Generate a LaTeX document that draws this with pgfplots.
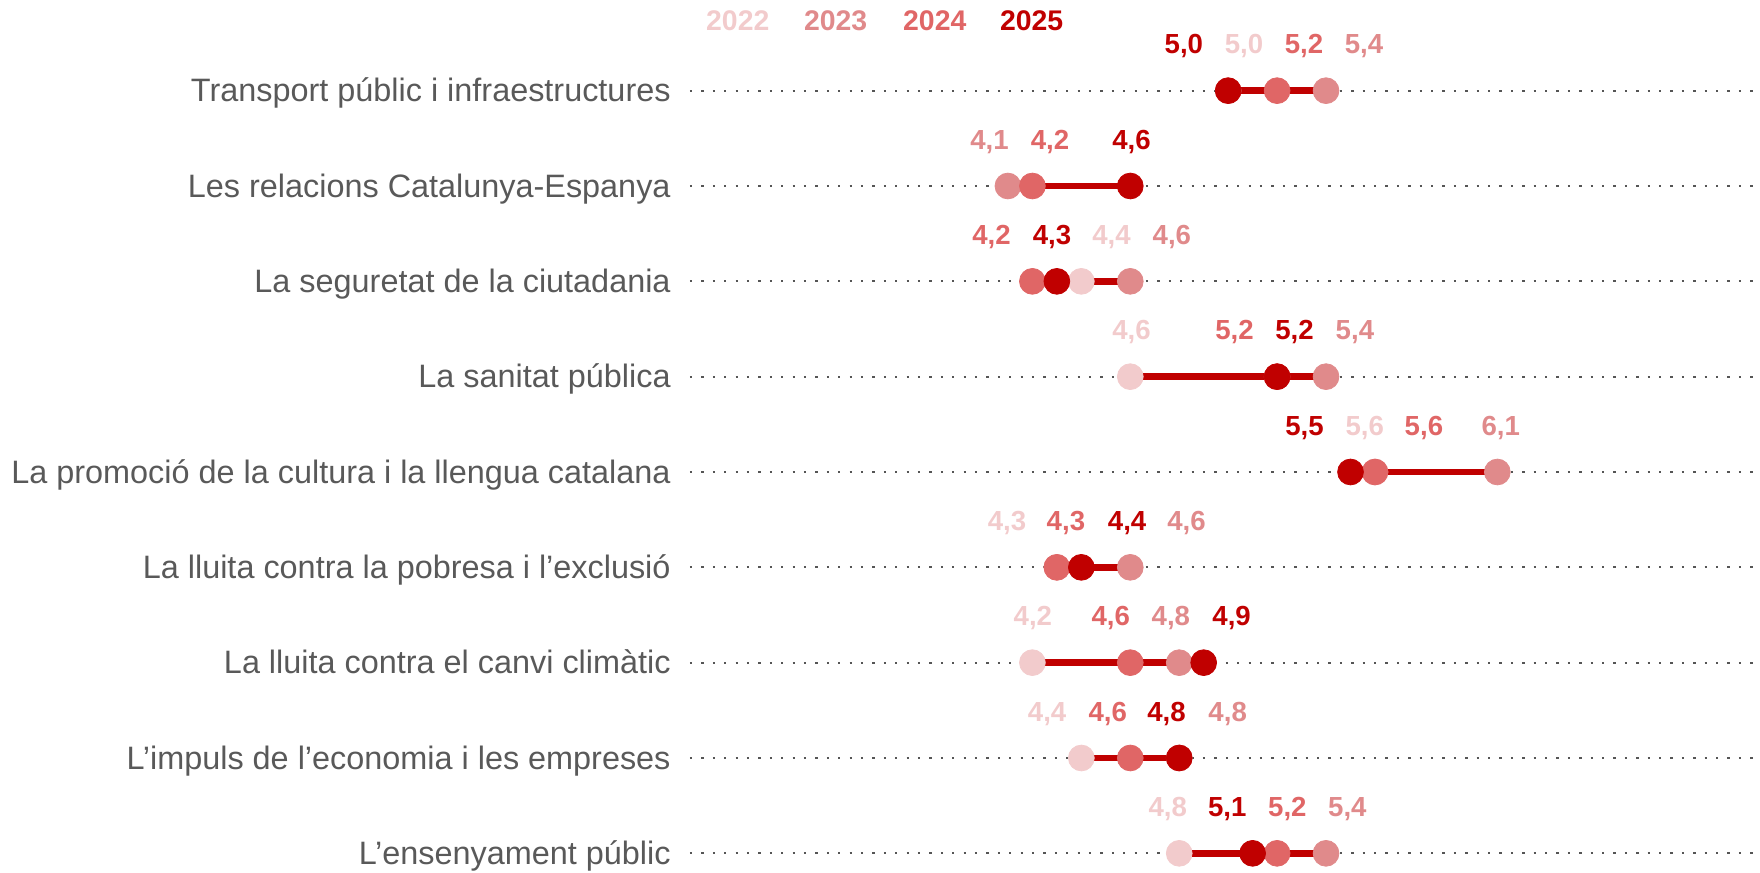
\documentclass[border=0pt]{standalone}
\usepackage{fontspec}
\setmainfont{Liberation Sans}
\usepackage{pgfplots}
\pgfplotsset{compat=1.18}
\definecolor{cA}{HTML}{F2CBCC}
\definecolor{cB}{HTML}{E08A8B}
\definecolor{cC}{HTML}{E06666}
\definecolor{cD}{HTML}{C00000}
\definecolor{txt}{HTML}{595959}
\definecolor{dotg}{HTML}{555555}
\begin{document}
\begin{tikzpicture}
\begin{axis}[
  scale only axis, width=535pt, height=436pt,
  xmin=2.8007, xmax=7.1734, ymin=-0.951, ymax=8.196, y dir=reverse,
  axis line style={draw=none},
  xtick=\empty, ytick={0,1,2,3,4,5,6,7,8},
  yticklabels={Transport públic i infraestructures,Les relacions Catalunya-Espanya,La seguretat de la ciutadania,La sanitat pública,La promoció de la cultura i la llengua catalana,La lluita contra la pobresa i l’exclusió,La lluita contra el canvi climàtic,L’impuls de l’economia i les empreses,L’ensenyament públic},
  major tick length=0pt,
  yticklabel style={font=\fontsize{16.2}{19}\selectfont, text=txt, anchor=base east, xshift=-9.5pt, yshift=-5.6pt, inner sep=0pt},
  ymajorgrids, grid style={dotg, line width=1.15pt, dash pattern=on 1.15pt off 4.55pt},
  clip=false,
  valnode/.style={draw=none, mark=none, nodes near coords, point meta=explicit symbolic,
    every node near coord/.append style={anchor=base, yshift=18.35pt, inner sep=0pt, font=\bfseries\fontsize{13.8}{16}\selectfont}},
]
% connecting lines
\addplot[cD, line width=3.3pt, unbounded coords=jump, mark=none] coordinates {
(5.0,0) (5.4,0) (nan,nan)
(4.1,1) (4.6,1) (nan,nan)
(4.2,2) (4.6,2) (nan,nan)
(4.6,3) (5.4,3) (nan,nan)
(5.5,4) (6.1,4) (nan,nan)
(4.3,5) (4.6,5) (nan,nan)
(4.2,6) (4.9,6) (nan,nan)
(4.4,7) (4.8,7) (nan,nan)
(4.8,8) (5.4,8)};
% 2022
\addplot[cA, only marks, mark=*, mark size=6.45pt] coordinates {
(5.0,0) (4.4,2) (4.6,3) (5.6,4) (4.3,5) (4.2,6) (4.4,7) (4.8,8)};
% 2023
\addplot[cB, only marks, mark=*, mark size=6.45pt] coordinates {
(5.4,0) (4.1,1) (4.6,2) (5.4,3) (6.1,4) (4.6,5) (4.8,6) (4.8,7) (5.4,8)};
% 2024
\addplot[cC, only marks, mark=*, mark size=6.45pt] coordinates {
(5.2,0) (4.2,1) (4.2,2) (5.2,3) (5.6,4) (4.3,5) (4.6,6) (4.6,7) (5.2,8)};
% 2025
\addplot[cD, only marks, mark=*, mark size=6.45pt] coordinates {
(5.0,0) (4.6,1) (4.3,2) (5.2,3) (5.5,4) (4.4,5) (4.9,6) (4.8,7) (5.1,8)};
% value labels
\addplot[cA, valnode] table[meta=lab] {
x y lab
5.065 0 5,0
4.523 2 4,4
4.605 3 4,6
5.558 4 5,6
4.096 5 4,3
4.202 6 4,2
4.260 7 4,4
4.753 8 4,8
};
\addplot[cB, valnode] table[meta=lab] {
x y lab
5.555 0 5,4
4.025 1 4,1
4.770 2 4,6
5.518 3 5,4
6.114 4 6,1
4.830 5 4,6
4.766 6 4,8
4.998 7 4,8
5.487 8 5,4
};
\addplot[cC, valnode] table[meta=lab] {
x y lab
5.310 0 5,2
4.272 1 4,2
4.033 2 4,2
5.026 3 5,2
5.800 4 5,6
4.337 5 4,3
4.520 6 4,6
4.508 7 4,6
5.242 8 5,2
};
\addplot[cD, valnode] table[meta=lab] {
x y lab
4.819 0 5,0
4.605 1 4,6
4.280 2 4,3
5.271 3 5,2
5.312 4 5,5
4.587 5 4,4
5.014 6 4,9
4.748 7 4,8
4.996 8 5,1
};
% year legend
\node[anchor=base, text=cA, inner sep=0pt, yshift=30pt, font=\bfseries\fontsize{14.2}{17}\selectfont] at (axis cs:2.996,0) {2022};
\node[anchor=base, text=cB, inner sep=0pt, yshift=30pt, font=\bfseries\fontsize{14.2}{17}\selectfont] at (axis cs:3.396,0) {2023};
\node[anchor=base, text=cC, inner sep=0pt, yshift=30pt, font=\bfseries\fontsize{14.2}{17}\selectfont] at (axis cs:3.801,0) {2024};
\node[anchor=base, text=cD, inner sep=0pt, yshift=30pt, font=\bfseries\fontsize{14.2}{17}\selectfont] at (axis cs:4.197,0) {2025};
\end{axis}
\pgfresetboundingbox
\path[use as bounding box] ([xshift=-345pt]current axis.south west) rectangle (current axis.north east);
\end{tikzpicture}
\end{document}
